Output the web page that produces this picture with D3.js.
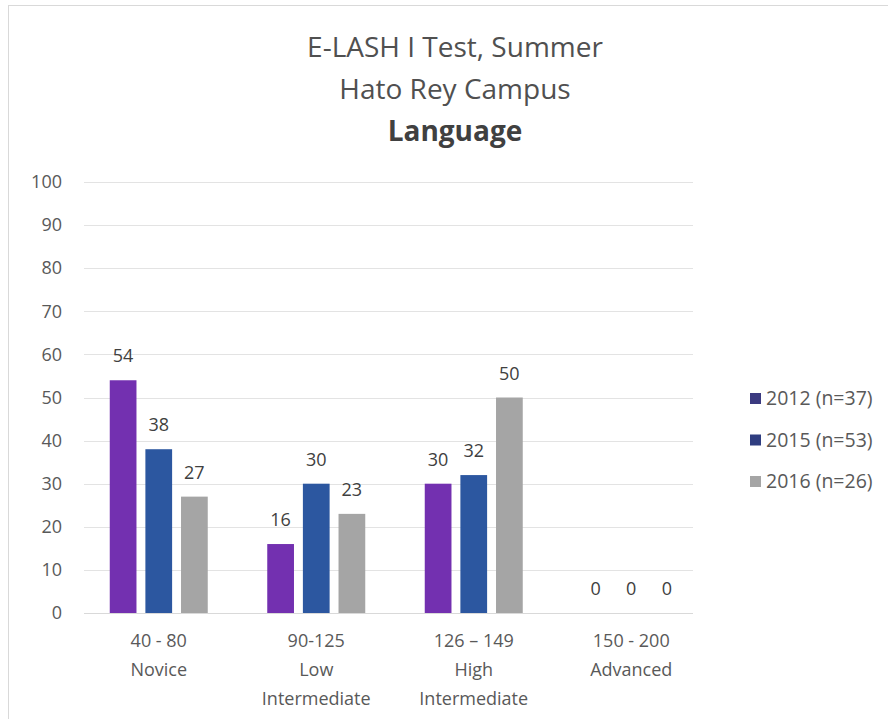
<!DOCTYPE html>
<html>
<head>
<meta charset="utf-8">
<script src="https://cdn.jsdelivr.net/npm/d3@7"></script>
<style>
  body { margin: 0; background: #fff; }
  svg text { font-family: "Open Sans", "Noto Sans", sans-serif; }
  .tick text { fill: #595959; font-size: 18px; }
  .lbl { fill: #404040; font-size: 18px; text-anchor: middle; }
</style>
</head>
<body>
<svg id="chart" width="888" height="719"></svg>
<script>
// chart data
var categories = [["40 - 80", "Novice"], ["90-125", "Low", "Intermediate"], ["126 \u2013 149", "High", "Intermediate"], ["150 - 200", "Advanced"]];
var seriesNames = ["2012 (n=37)", "2015 (n=53)", "2016 (n=26)"];
var values2012 = [54, 16, 30, 0];
var values2015 = [38, 30, 32, 0];
var values2016 = [27, 23, 50, 0];
var yTicks = [0, 10, 20, 30, 40, 50, 60, 70, 80, 90, 100];
var titleLines = ["E-LASH I Test, Summer", "Hato Rey Campus", "Language"];

var barColors = ["#7330b0", "#2c57a0", "#a5a5a5"];
var legendColors = ["#3b3a80", "#2f3d80", "#a5a5a5"];

var svg = d3.select("#chart");
var allSeries = [values2012, values2015, values2016];

// frame
svg.append("line").attr("x1", 8).attr("x2", 888).attr("y1", 5.5).attr("y2", 5.5).attr("stroke", "#d9d9d9");
svg.append("line").attr("x1", 8.5).attr("x2", 8.5).attr("y1", 5).attr("y2", 719).attr("stroke", "#d9d9d9");

var x0 = d3.scaleBand().domain(d3.range(categories.length)).range([80, 710]);
var x1 = d3.scaleBand().domain(d3.range(seriesNames.length)).range([x0.bandwidth() / 2 - 49, x0.bandwidth() / 2 + 49]).paddingInner(0.25);
var y = d3.scaleLinear().domain([0, 100]).range([613, 182]);

// title
svg.selectAll("text.title").data(titleLines).enter().append("text")
  .attr("class", "title")
  .attr("x", 455)
  .attr("y", function(d, i) { return 57 + i * 42; })
  .attr("text-anchor", "middle")
  .attr("fill", function(d, i) { return i == 2 ? "#404040" : "#505050"; })
  .style("font-size", "28px")
  .style("font-weight", function(d, i) { return i == 2 ? "bold" : "normal"; })
  .text(function(d) { return d; });

// gridlines
svg.append("g").selectAll("line").data(yTicks).enter().append("line")
  .attr("x1", 84).attr("x2", 693)
  .attr("y1", function(d) { return Math.round(y(d)) + 0.5; })
  .attr("y2", function(d) { return Math.round(y(d)) + 0.5; })
  .attr("stroke", function(d) { return d == 0 ? "#d9d9d9" : "#e3e3e3"; });

// y axis labels
var yAxis = d3.axisLeft(y).tickValues(yTicks).tickSize(0).tickPadding(0);
var yg = svg.append("g").attr("transform", "translate(62,0)").call(yAxis);
yg.select(".domain").remove();
yg.selectAll(".tick text").attr("font-family", null).attr("font-size", null);

// bars
var groups = svg.append("g").selectAll("g").data(categories).enter().append("g")
  .attr("transform", function(d, i) { return "translate(" + x0(i) + ",0)"; });

groups.each(function(cat, ci) {
  var g = d3.select(this);
  allSeries.forEach(function(vals, si) {
    var v = vals[ci];
    g.append("rect")
      .attr("x", x1(si))
      .attr("width", x1.bandwidth())
      .attr("y", y(v))
      .attr("height", y(0) - y(v))
      .attr("fill", barColors[si]);
    g.append("text")
      .attr("class", "lbl")
      .attr("x", x1(si) + x1.bandwidth() / 2)
      .attr("y", y(v) - 18)
      .text(v);
  });
  // category labels
  g.selectAll("text.cat").data(cat).enter().append("text")
    .attr("class", "cat")
    .attr("x", x0.bandwidth() / 2)
    .attr("y", function(d, i) { return 647 + i * 29; })
    .attr("text-anchor", "middle")
    .attr("fill", "#595959")
    .style("font-size", "18px")
    .text(function(d) { return d; });
});

// legend
var legend = svg.append("g").selectAll("g").data(seriesNames).enter().append("g")
  .attr("transform", function(d, i) { return "translate(750," + (398 + i * 41.5) + ")"; });
legend.append("rect").attr("x", 0).attr("y", -5).attr("width", 11).attr("height", 11)
  .attr("fill", function(d, i) { return legendColors[i]; });
legend.append("text").attr("x", 16).attr("y", 7)
  .attr("fill", "#595959").style("font-size", "19.5px")
  .text(function(d) { return d; });
</script>
</body>
</html>
